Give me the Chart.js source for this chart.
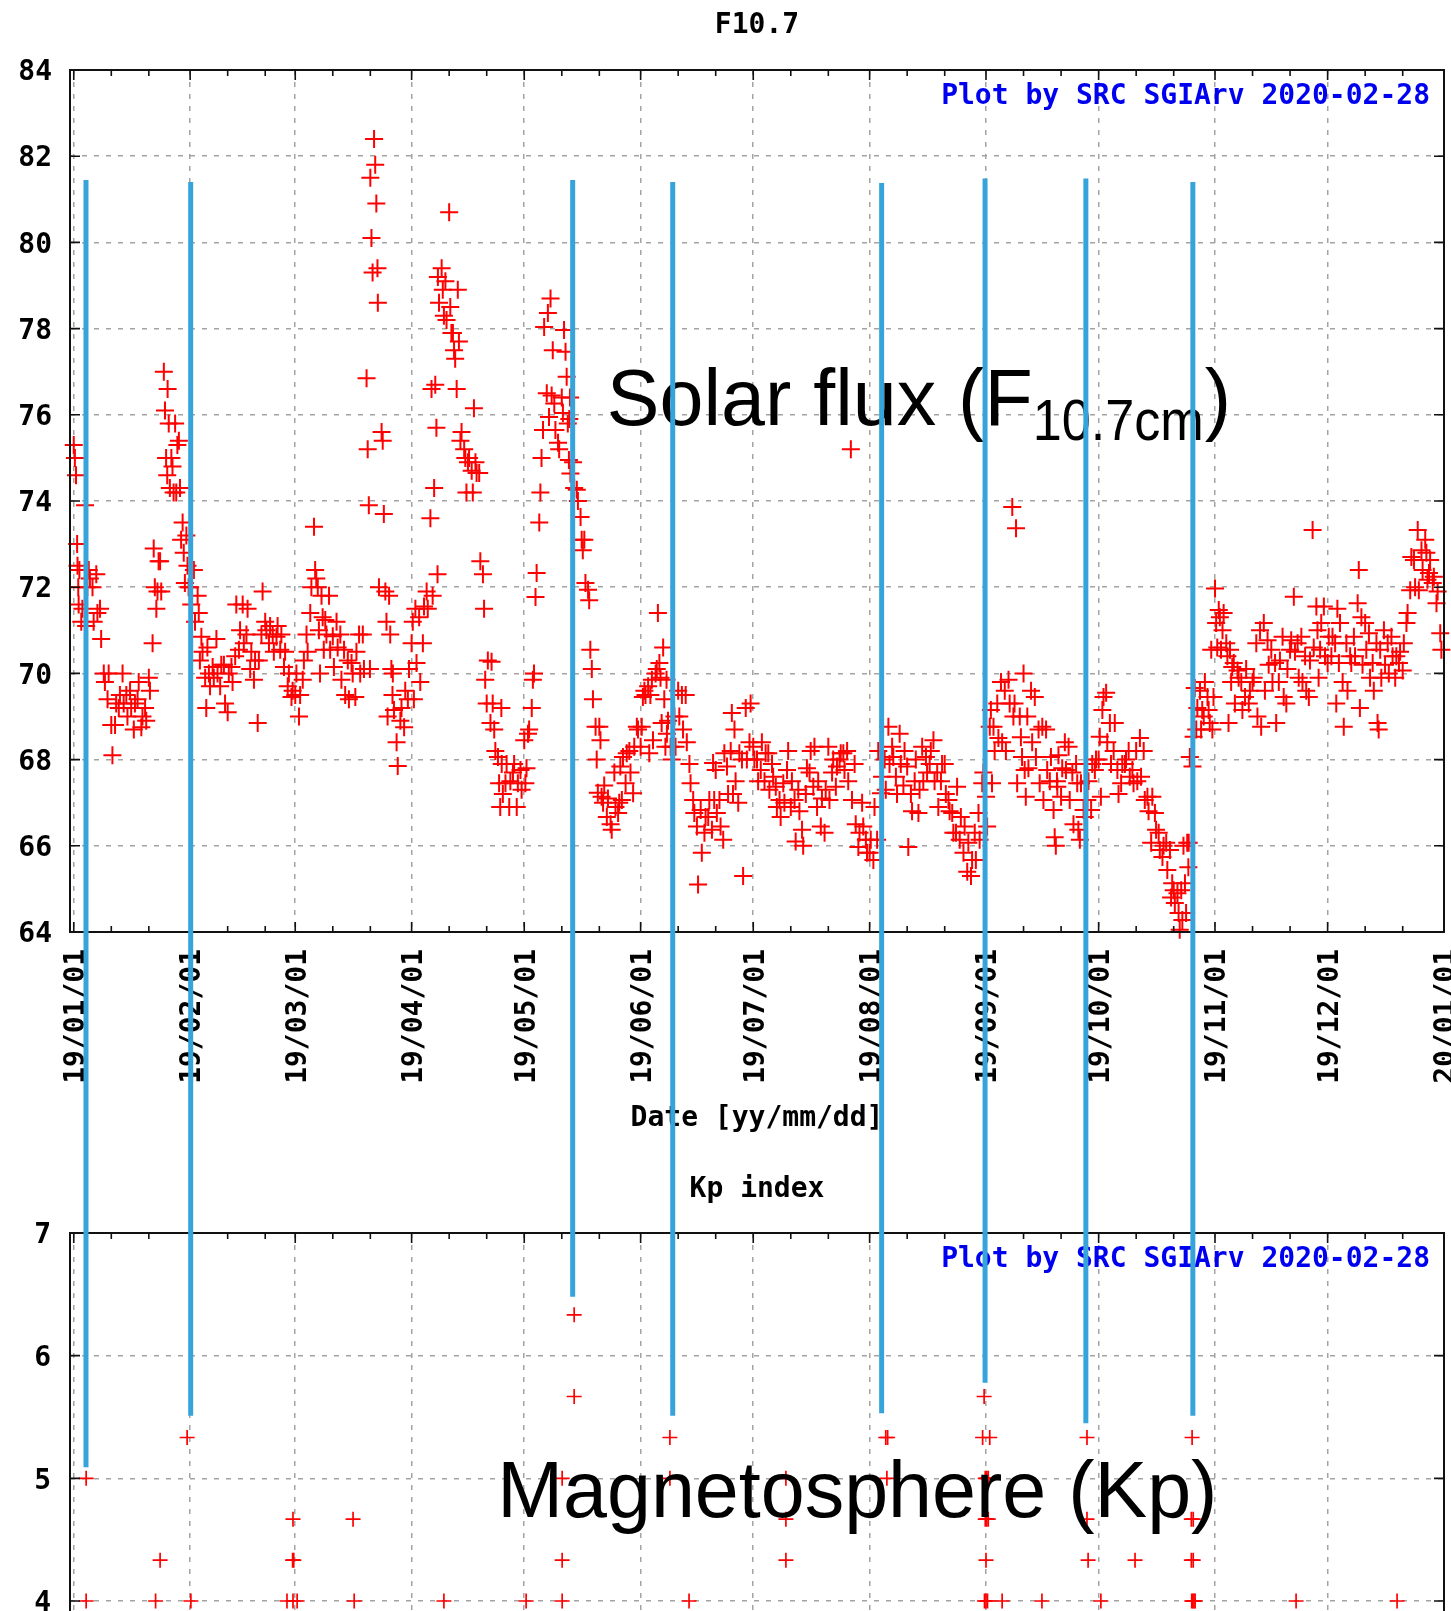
<!DOCTYPE html>
<html><head><meta charset="utf-8">
<script src="https://cdn.jsdelivr.net/npm/chart.js@4.4.1/dist/chart.umd.min.js"></script>
<style>
html,body{margin:0;padding:0;background:#fff;overflow:hidden;width:1451px;height:1611px;}
#c1{position:absolute;left:0;top:0;}
#c2{position:absolute;left:0;top:1150px;}
</style></head><body>
<canvas id="c1" width="1451" height="1150"></canvas>
<canvas id="c2" width="1451" height="1000"></canvas>
<script>
// ---- axis categories (day of year 2019, Jan 1 = 0) ----
const monthStarts = [0,31,59,90,120,151,181,212,243,273,304,334,365];
const monthLabels = ['19/01/01','19/02/01','19/03/01','19/04/01','19/05/01','19/06/01','19/07/01','19/08/01','19/09/01','19/10/01','19/11/01','19/12/01','20/01/01'];
const f107Ticks = [64,66,68,70,72,74,76,78,80,82,84];
const kpTicks = [0,1,2,3,4,5,6,7];

// ---- F10.7 readings: one list per day, one array per month ----
const f107Jan = [[75.3,75.0,74.6,73.0,72.0,72.4],[72.5,71.6],[71.2,71.5],[73.9,71.1,72.0],[72.4,72.2],[72.0,71.2],[72.3,71.4],[71.5,70.8],[70.0,69.8],[69.4,70.0],[68.8,68.1],[68.8,69.3],[69.2,69.5],[70.0,69.3],[69.5,69.0],[69.6,69.2],[68.7,69.3],[69.4,69.8],[68.75,69.0],[69.2,68.9],[69.9,69.6],[70.7,72.9,72.0],[71.5,71.9,72.6],[72.6,71.9],[77.0,76.1,75.0,74.6],[76.6,75.8,74.3],[75.0,74.8,74.2],[75.8,74.2,75.3],[75.4,74.3,73.1],[73.5,72.8,72.1],[73.2,72.5,72.0]];
const f107Feb = [[72.0,71.6],[72.4,71.2],[71.8,71.4,70.3],[70.85,70.5],[69.9,69.2,70.6],[70.0,69.7],[70.15,69.9],[70.8,70.0],[69.7,70.2],[70.2,69.3],[69.1,70.0],[70.15,69.8],[70.4,71.6],[70.55,71.0],[71.6,70.7],[70.9,71.5],[70.1,70.5],[69.85,70.3],[68.85,70.3],[70.9,71.9],[71.2,71.0],[70.7,71.1],[70.9,70.5],[70.85,71.1],[70.55,70.9],[70.15,70.5],[69.7,70.0],[69.45,69.6]];
const f107Mar = [[69.5,70.0],[69.0,69.5],[69.85,70.3],[70.9,70.5],[71.4,72.0],[73.4,72.4,72.2],[72.0,71.0,70.0],[71.8,71.3,70.55],[71.24,70.9],[71.8,70.55],[70.86,70.15],[71.2,70.6],[70.9,69.85],[70.55,69.5],[70.3,69.4],[70.24,70.0],[69.45,70.5],[70.9,70.0],[70.9,70.1],[76.85,75.2,73.9,70.1],[81.5,80.1,79.3],[82.4,81.8,80.9,79.4],[78.6,72.0],[75.6,75.4,73.7],[71.9,71.2,69.0],[71.8,70.9,70.1,69.5],[70.0,69.15],[68.4,67.85],[68.9,69.2],[68.75,69.6],[69.4,70.1]];
const f107Apr = [[70.7,71.2,69.4],[71.5,70.24],[71.3,69.8],[70.7,71.55],[71.9,71.5],[73.6,76.6,71.8],[74.3,76.7,75.7,72.3],[79.2,78.6],[79.4,78.9,78.3],[79.1,78.2],[80.7,78.5,77.9],[77.9,77.5,77.3],[76.6,78.9,77.7],[75.4,75.6],[75.2,75.0,74.2],[74.9,75.0],[74.7,74.2,76.15],[74.9,74.65],[74.65,72.6],[72.3,71.5,69.85],[69.3,70.3],[68.85,70.27,69.3],[68.7,68.2],[68.06,67.45,66.9,69.2],[67.9,67.2],[67.45,67.9],[66.9,67.5],[67.7,67.9],[66.9,67.45],[67.76,67.3]];
const f107May = [[68.45,67.45,67.8],[68.6,68.7],[69.2,69.85,70.0],[71.77,72.33],[73.5,74.2,75.0],[75.65,78.04],[76.5,78.36,75.95],[78.7,76.45,77.5],[76.26,75.65],[75.35,75.2],[76.4,76.04,77.97],[77.46,76.88,75.8,74.95,76.4],[75.9,74.64],[74.9,74.3],[74.26,74.0],[73.63,73.1,72.86],[73.1,72.1],[71.94,71.7,70.55],[70.1,69.4],[68.76,68.0,67.23],[68.76,68.45,67.14],[67.0,67.4],[66.67,67.1],[66.5,66.37],[67.7,66.9],[66.76,67.0,67.84],[67.06,68.06],[67.45,68.15],[68.2,67.7],[67.22,68.3],[68.76,68.7]];
const f107Jun = [[68.3,68.76,69.45],[69.6,69.5],[69.7,68.15,69.5],[69.85,68.45],[70.0,70.1,71.4],[70.24,69.9,68.85],[70.6,69.4,68.3,69.85],[68.6,68.9],[68.3,68.0],[69.0,68.3],[69.6,69.0],[69.5,68.7],[69.5,68.4],[67.9,67.45],[67.06,66.76],[66.45,65.1],[66.83,65.84],[66.3,66.67],[66.67,67.06],[66.37,67.92,67.06],[67.76,66.76],[67.06,66.45],[66.14,68.15],[67.84,67.2],[68.2,69.08,67.2],[68.7,67.5],[67.0,68.15],[68.0,65.3],[69.2,68.0],[68.4,69.3]];
const f107Jul = [[68.3,68.0],[68.0,67.5],[67.76,68.4],[67.5,68.15],[68.15,67.3],[67.9,67.6],[67.37,66.9],[67.06,66.67],[67.45,67.0],[67.76,68.2],[66.9,67.5],[67.06,66.1],[67.3,66.8],[66.37,66.0],[67.2,67.8],[67.7,68.2],[67.37,68.3],[66.9,67.5],[66.45,67.1],[66.3,67.3],[68.3,67.06],[67.7,68.0],[67.37,67.84],[68.0,68.15],[68.15,67.76],[68.2,67.5],[75.2,67.06],[67.9,66.5],[65.97,66.3],[67.0,66.45],[66.14,65.84]];
const f107Aug = [[65.84,66.14],[65.67,66.9],[66.14,68.2],[67.22,67.6],[68.0,67.3],[68.76,67.9],[68.3,68.06],[67.6,67.2],[68.6,67.9],[67.4,68.2],[67.84,65.97],[67.2,66.8],[67.5,68.0],[66.76,67.3],[68.3,67.5],[68.06,67.7],[67.9,68.2],[68.45,67.5],[67.7,66.9],[67.5,67.9],[67.9,67.2],[67.06,66.8],[66.76,66.3],[66.3,67.37],[66.14,66.67],[65.84,66.45],[65.4,66.07],[65.3,65.67],[66.3,65.67],[66.76,66.14],[67.45,67.7]];
const f107Sep = [[67.14,66.45],[68.76,69.15,67.45],[68.76,68.2],[69.3,68.5],[69.8,68.4],[69.6,68.2],[69.85,69.3],[73.86,69.0,69.3],[73.37,67.45],[69.0,68.52,68.06],[70.0,67.76,67.14],[69.0,67.8],[69.6,68.4],[69.45,68.06],[68.7,67.45],[68.76,67.06],[68.7,67.76],[67.5,68.06],[66.83,66.2,66.0,67.5],[67.37,68.1],[67.14,67.8],[68.4,67.76],[68.3,67.06],[67.7,66.5],[67.9,67.45,66.37],[66.14,67.45],[66.83,66.67],[67.06,67.5],[66.83,67.9],[67.76,68.0]];
const f107Oct = [[68.0,68.53,67.14],[69.15,69.45],[69.55,68.4],[68.85,67.9],[68.2,68.85],[67.76,67.2],[67.45,67.9],[67.9,68.0],[68.2,67.6],[67.76,67.45],[68.2,67.5],[68.5,67.6],[68.2,67.06],[67.14,66.8],[66.07,67.14],[66.76,66.37],[66.3,65.9],[65.74,66.0],[66.07,65.44],[65.9,64.8,65.13],[64.97,64.67],[64.9,64.44,64.05],[64.97,64.28,66.0],[65.13,64.44,66.07,65.5],[66.07,68.06],[67.84,68.53,69.66],[68.7,69.2],[69.6,68.7,69.15],[69.0,69.8],[69.45,69.15,68.85],[70.55,68.7,69.45]];
const f107Nov = [[71.97,71.17,70.6],[71.47,71.3,70.55],[71.0,71.4],[70.7,70.4,68.85],[70.55,69.8,70.15],[70.24,69.3],[70.07,69.9],[69.8,69.15],[69.45,70.1],[69.3,69.6],[69.8,69.9],[70.7,69.0],[71.0,68.76],[71.17,69.6],[70.77,70.2],[70.55,69.8],[70.24,68.85],[69.8,70.3],[70.85,69.45],[69.3,70.1],[70.55,70.77],[71.78,70.5],[70.7,69.9],[70.85,69.8],[70.4,69.6],[69.45,70.3],[73.33,70.6],[71.55,71.0,69.9],[70.55,71.17],[71.55,70.4]];
const f107Dec = [[70.24,70.85],[70.4,70.85],[70.7,69.3,71.5],[70.24,71.17],[69.8,68.76],[70.7,69.6],[70.4,70.24],[70.85,70.4],[71.63,72.4,69.2],[71.3,70.2],[71.17,70.55],[70.93,69.9],[70.24,69.6],[70.7,68.85,68.7],[70.55,69.9],[71.0,70.2],[70.7,70.0],[70.85,70.4],[69.9,70.4],[70.24,70.5],[70.07,70.7],[71.17,71.4],[71.93,72.7],[72.63,72.0],[73.33,71.93],[72.86,72.4],[73.1,72.8,72.17],[72.33,72.63],[72.1,72.24],[71.63,71.9],[70.93,70.55]];

// ---- Kp index (only values >= 4 are visible) ----
const kpDays = [3.3,3.3,21.8,23.0,30.2,31.2,56.8,58.4,58.3,58.6,58.4,59.5,74.4,74.7,98.6,120.5,130.1,130.1,130.1,133.3,133.3,158.8,158.8,163.9,189.7,189.7,189.7,216.3,216.8,216.6,242.5,242.1,244.0,242.8,243.2,243.6,242.8,243.2,243.6,243.0,242.6,243.0,243.4,247.3,257.9,269.9,269.9,270.2,273.6,282.7,297.9,297.7,298.2,297.7,298.2,297.8,298.1,298.4,298.7,325.6,352.5];
const kpValues = [5.0,4.0,4.0,4.333,5.333,4.0,4.0,4.667,4.333,4.333,4.0,4.0,4.667,4.0,4.0,4.0,5.0,4.333,4.0,6.333,5.667,5.333,5.0,4.0,5.0,4.667,4.333,5.333,5.333,5.0,5.667,5.333,5.333,5.0,5.0,5.0,4.667,4.667,4.667,4.333,4.0,4.0,4.0,4.0,4.0,5.333,4.667,4.333,4.0,4.333,5.333,4.667,4.667,4.333,4.333,4.0,4.0,4.0,4.0,4.0,4.0];

// ---- event markers (blue lines) ----
const eventDays = [3.26,31.15,132.9,159.55,215.2,242.75,269.6,298.1];
const eventTopF107 = [81.45,81.40,81.45,81.40,81.38,81.48,81.48,81.40];
const eventBottomKp = [5.09,5.51,6.48,5.51,5.53,5.78,5.45,5.51];

// ---- build points ----
const f107Months = [f107Jan,f107Feb,f107Mar,f107Apr,f107May,f107Jun,f107Jul,f107Aug,f107Sep,f107Oct,f107Nov,f107Dec];
const f107Points = [];
f107Months.forEach((month, m) => month.forEach((readings, d) => readings.forEach((v, k) => {
  f107Points.push({x: monthStarts[m] + d + k * 0.3, y: v});
})));
const kpPoints = kpDays.map((d, i) => ({x: d, y: kpValues[i]}));

const tickDays = [];
for (let i = 0; i < 12; i++) { tickDays.push(monthStarts[i], monthStarts[i] + 10, monthStarts[i] + 20); }
tickDays.push(365);

const MONO = "'DejaVu Sans Mono', monospace";
const SANS = "'Liberation Sans', Arial, sans-serif";
const EVENT_COLOR = '#36a4da';
const GRID_COLOR = '#a3a3a3';
Chart.defaults.font.family = MONO;
Chart.defaults.font.size = 28;
Chart.defaults.font.weight = 'bold';
Chart.defaults.color = '#000';

function xScale(showLabels, titleText) {
  return {
    type: 'linear', min: -1, max: 365,
    afterBuildTicks: (s) => { s.ticks = tickDays.map(v => ({value: v})); },
    afterFit: (s) => { s.paddingLeft = 0; s.paddingRight = 0; s.height = showLabels ? 218 : 58.3; },
    grid: {
      drawTicks: false,
      lineWidth: 1.5,
      color: (c) => (c.tick && monthStarts.includes(c.tick.value)) ? GRID_COLOR : 'rgba(0,0,0,0)'
    },
    border: {display: false, dash: [5, 7]},
    ticks: {
      display: showLabels, autoSkip: false, minRotation: 90, maxRotation: 90, padding: 17, labelOffset: 3,
      font: {family: MONO, size: 28, weight: 'bold'}, color: '#000',
      callback: (v) => { const i = monthStarts.indexOf(v); return i >= 0 ? monthLabels[i] : ''; }
    },
    title: titleText ? {display: true, text: titleText, font: {family: MONO, size: 28, weight: 'bold'}, color: '#000', padding: {top: 0, bottom: 14}} : {display: false}
  };
}
function yScale(min, max, ticksArr, pad) {
  return {
    type: 'linear', min: min, max: max,
    afterBuildTicks: (s) => { s.ticks = ticksArr.map(v => ({value: v})); },
    afterFit: (s) => { s.width = 70; },
    grid: {drawTicks: false, lineWidth: 1.5, color: GRID_COLOR},
    border: {display: false, dash: [5, 7]},
    ticks: {padding: pad, labelOffset: 3, font: {family: MONO, size: 28, weight: 'bold'}, color: '#000', callback: (v) => String(v)}
  };
}

const frameTicks = {
  id: 'frameTicks',
  afterDatasetsDraw(chart) {
    const {ctx, chartArea: a, scales: {x, y}} = chart;
    ctx.save();
    ctx.strokeStyle = '#111';
    ctx.lineWidth = 1.6;
    ctx.beginPath();
    x.ticks.forEach(t => {
      const px = x.getPixelForValue(t.value);
      const len = monthStarts.includes(t.value) ? 10 : 6;
      ctx.moveTo(px, a.bottom); ctx.lineTo(px, a.bottom - len);
      ctx.moveTo(px, a.top); ctx.lineTo(px, a.top + len);
    });
    y.ticks.forEach(t => {
      const py = y.getPixelForValue(t.value);
      ctx.moveTo(a.left, py); ctx.lineTo(a.left + 10, py);
      ctx.moveTo(a.right, py); ctx.lineTo(a.right - 10, py);
    });
    ctx.stroke();
    ctx.lineWidth = 2;
    ctx.strokeRect(a.left, a.top, a.right - a.left, a.bottom - a.top);
    ctx.fillStyle = '#0000f0';
    ctx.font = 'bold 28px ' + MONO;
    ctx.textAlign = 'right';
    ctx.textBaseline = 'middle';
    ctx.fillText('Plot by SRC SGIArv 2020-02-28', a.right - 14, a.top + 27);
    ctx.restore();
  }
};

function drawEvents(chart, values, fromValueDown) {
  const {ctx, scales: {x, y}} = chart;
  ctx.save();
  ctx.strokeStyle = EVENT_COLOR;
  ctx.lineWidth = 5;
  eventDays.forEach((d, i) => {
    const px = x.getPixelForValue(d);
    const py = y.getPixelForValue(values[i]);
    ctx.beginPath();
    if (fromValueDown) { ctx.moveTo(px, py); ctx.lineTo(px, chart.height); }
    else { ctx.moveTo(px, 0); ctx.lineTo(px, py); }
    ctx.stroke();
  });
  ctx.restore();
}

const topAnnot = {
  id: 'topAnnot',
  afterDraw(chart) {
    const {ctx, scales: {x, y}} = chart;
    ctx.save();
    ctx.fillStyle = '#000';
    ctx.textBaseline = 'alphabetic';
    ctx.textAlign = 'left';
    ctx.font = '79px ' + SANS;
    let tx = x.getPixelForValue(142.0);
    const ty = y.getPixelForValue(75.76);
    const main = 'Solar flux (F';
    ctx.fillText(main, tx, ty);
    tx += ctx.measureText(main).width;
    ctx.save();
    ctx.font = '58px ' + SANS;
    const sub = '10.7cm';
    const sw = ctx.measureText(sub).width * 0.9;
    ctx.translate(tx, ty + 15);
    ctx.scale(0.9, 1);
    ctx.fillText(sub, 0, 0);
    ctx.restore();
    tx += sw + 1;
    ctx.font = '79px ' + SANS;
    ctx.fillText(')', tx, ty);
    ctx.restore();
    drawEvents(chart, eventTopF107, true);
  }
};
const bottomAnnot = {
  id: 'bottomAnnot',
  afterDraw(chart) {
    const {ctx, scales: {x, y}} = chart;
    ctx.save();
    ctx.fillStyle = '#000';
    ctx.textBaseline = 'alphabetic';
    ctx.textAlign = 'left';
    ctx.font = '79px ' + SANS;
    ctx.fillText('Magnetosphere (Kp)', x.getPixelForValue(112.8), y.getPixelForValue(4.685));
    ctx.restore();
    drawEvents(chart, eventBottomKp, false);
  }
};

const pointStyleTop = {pointStyle: 'cross', pointRadius: 9, pointBorderWidth: 2, pointBorderColor: '#ff0000', pointBackgroundColor: '#ff0000'};
const pointStyleBottom = {pointStyle: 'cross', pointRadius: 7.5, pointBorderWidth: 1.7, pointBorderColor: '#ff0000', pointBackgroundColor: '#ff0000'};

new Chart(document.getElementById('c1'), {
  type: 'scatter',
  data: {datasets: [Object.assign({label: 'F10.7', data: f107Points, clip: false, showLine: false}, pointStyleTop)]},
  options: {
    responsive: false, animation: false, events: [],
    layout: {autoPadding: false, padding: {left: 0, right: 7, top: 0, bottom: 0}},
    plugins: {
      legend: {display: false}, tooltip: {enabled: false},
      title: {display: true, text: 'F10.7', fullSize: false, color: '#000', font: {family: MONO, size: 28, weight: 'bold'}, padding: {top: 9, bottom: 27.4}}
    },
    scales: {x: xScale(true, 'Date [yy/mm/dd]'), y: yScale(64, 84, f107Ticks, 18)}
  },
  plugins: [frameTicks, topAnnot]
});

new Chart(document.getElementById('c2'), {
  type: 'scatter',
  data: {datasets: [Object.assign({label: 'Kp', data: kpPoints, clip: false, showLine: false}, pointStyleBottom)]},
  options: {
    responsive: false, animation: false, events: [],
    layout: {autoPadding: false, padding: {left: 0, right: 7, top: 0, bottom: 0}},
    plugins: {
      legend: {display: false}, tooltip: {enabled: false},
      title: {display: true, text: 'Kp index', fullSize: false, color: '#000', font: {family: MONO, size: 28, weight: 'bold'}, padding: {top: 23.2, bottom: 26.2}}
    },
    scales: {x: xScale(false, null), y: yScale(0, 7, kpTicks, 19)}
  },
  plugins: [frameTicks, bottomAnnot]
});
</script></body></html>
